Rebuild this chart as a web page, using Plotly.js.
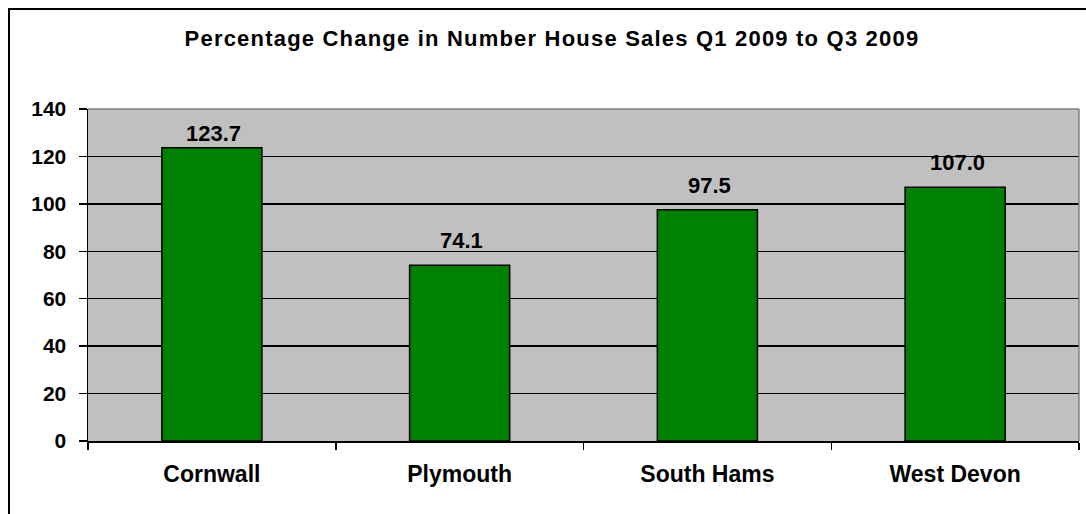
<!DOCTYPE html>
<html>
<head>
<meta charset="utf-8">
<script src="https://cdn.plot.ly/plotly-3.0.1.min.js"></script>
<style>
  html, body { margin: 0; padding: 0; background: #ffffff; }
  #chart { width: 1086px; height: 514px; }
  .gtitle { letter-spacing: 1.2px; }
</style>
</head>
<body>
<div id="chart"></div>
<script>
// ---- data ----
const categories = ["Cornwall", "Plymouth", "South Hams", "West Devon"];
const pctChange = [123.7, 74.1, 97.5, 107.0];
const valueLabels = ["123.7", "74.1", "97.5", "107.0"];
const titleText = "Percentage Change in Number House Sales Q1 2009 to Q3 2009";
const yTickVals = [0, 20, 40, 60, 80, 100, 120, 140];

// ---- layout geometry ----
const W = 1086, H = 514;
const M = { l: 88, r: 7, t: 109, b: 73 };
const plotW = W - M.l - M.r, plotH = H - M.t - M.b;
const px2x = p => (p - M.l) / plotW;
const py2y = p => (H - M.b - p) / plotH;
const labelShift = [0, 10, 10, 10];

const font = "Arial, 'Liberation Sans', sans-serif";

const trace = {
  type: "bar",
  x: categories,
  y: pctChange,
  marker: { color: "#008000", line: { color: "#000000", width: 1.5 } },
  hoverinfo: "x+y"
};

const annotations = categories.map((c, i) => ({
  x: c, y: pctChange[i], xref: "x", yref: "y",
  text: valueLabels[i], showarrow: false,
  yanchor: "bottom", xanchor: "center", yshift: labelShift[i], xshift: 2,
  font: { family: font, size: 22, color: "#000000", weight: "bold" }
}));

const shapes = [
  // gray top and right plot-area border
  { type: "line", xref: "paper", yref: "paper", x0: 0, x1: 1, y0: 1, y1: 1,
    line: { color: "#808080", width: 1.5 }, layer: "above" },
  { type: "line", xref: "paper", yref: "paper", x0: 1, x1: 1, y0: 0, y1: 1,
    line: { color: "#808080", width: 1.5 }, layer: "above" },
  // outer chart border (left and top edges visible)
  { type: "path", xref: "paper", yref: "paper",
    path: `M ${px2x(9)} ${py2y(530)} L ${px2x(9)} ${py2y(9)} L ${px2x(1100)} ${py2y(9)}`,
    line: { color: "#000000", width: 2 }, layer: "above" }
];

const layout = {
  width: W, height: H,
  margin: M,
  paper_bgcolor: "#ffffff",
  plot_bgcolor: "#C0C0C0",
  showlegend: false,
  bargap: 0.596,
  title: {
    text: "<b>" + titleText + "</b>",
    xref: "container", yref: "container",
    x: 552 / W, y: 1 - 38 / H, xanchor: "center", yanchor: "middle",
    font: { family: font, size: 22, color: "#000000" }
  },
  xaxis: {
    type: "category",
    showgrid: false,
    showline: true, linecolor: "#000000", linewidth: 1.5,
    ticks: "outside", tickson: "boundaries", ticklen: 7, tickcolor: "#000000", tickwidth: 1.5,
    ticklabelstandoff: 12,
    tickfont: { family: font, size: 23, color: "#000000", weight: "bold" },
    fixedrange: true
  },
  yaxis: {
    range: [0, 140],
    tickvals: yTickVals,
    showgrid: true, gridcolor: "#000000", gridwidth: 1.5,
    zeroline: false,
    showline: true, linecolor: "#000000", linewidth: 1.5,
    ticks: "outside", ticklen: 8, tickcolor: "#000000", tickwidth: 1.5,
    ticklabelstandoff: 8,
    tickfont: { family: font, size: 21, color: "#000000", weight: "bold" },
    fixedrange: true
  },
  annotations: annotations,
  shapes: shapes
};

Plotly.newPlot("chart", [trace], layout, { displayModeBar: false, staticPlot: true });
</script>
</body>
</html>
